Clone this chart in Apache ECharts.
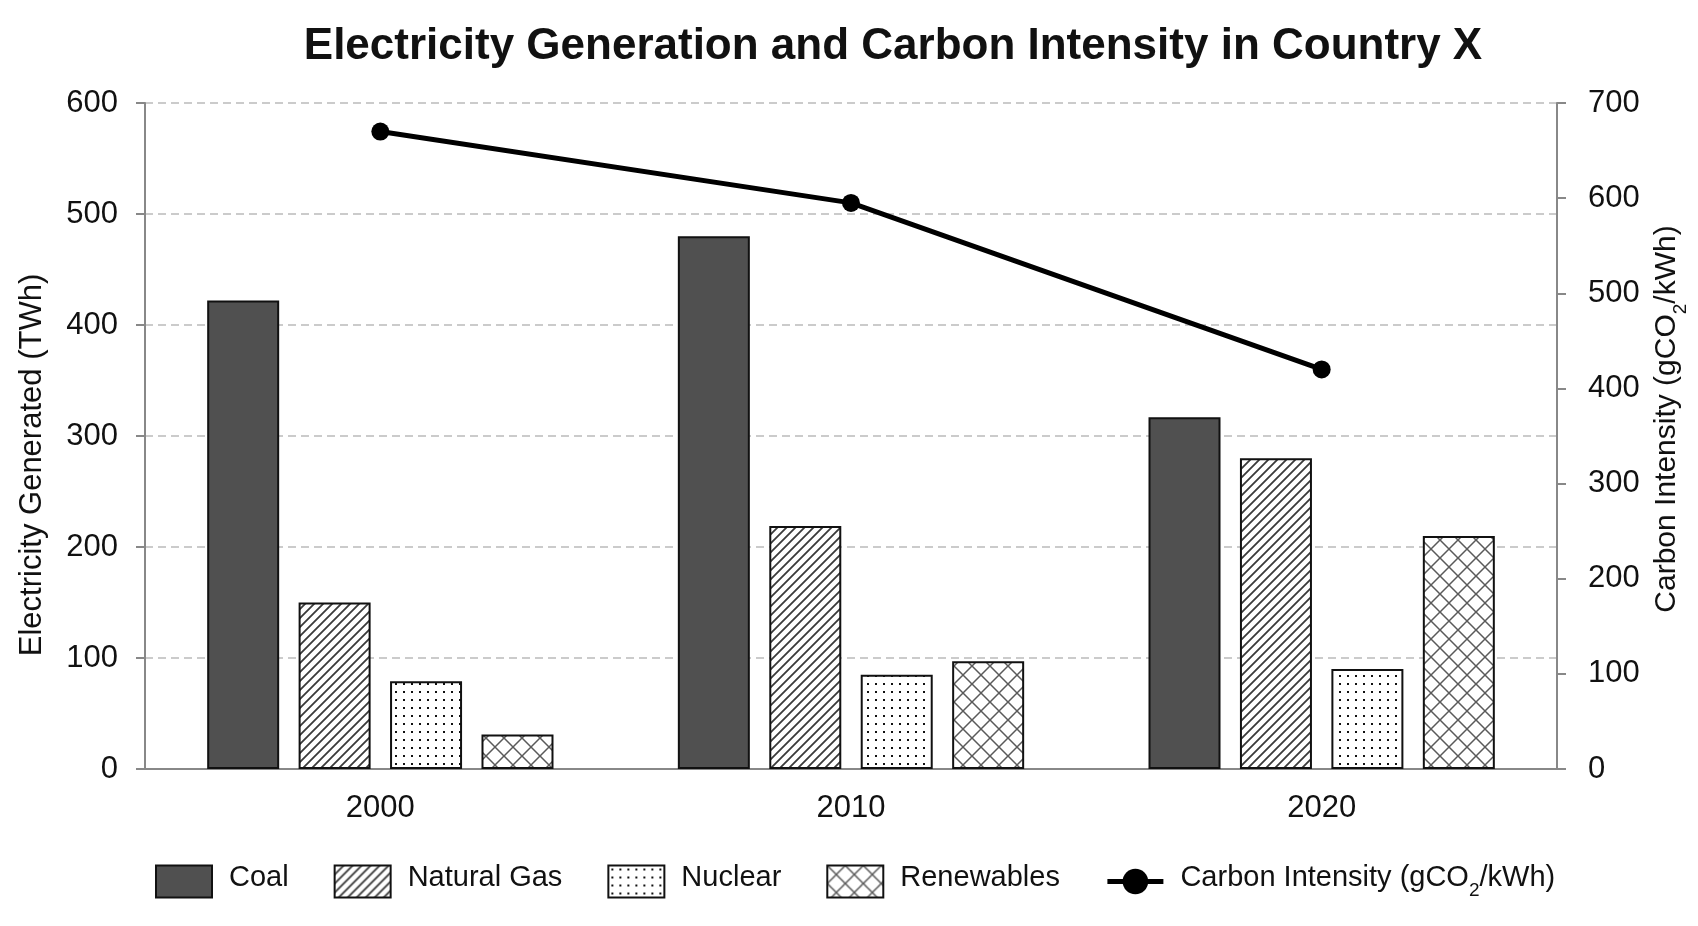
<!DOCTYPE html>
<html>
<head>
<meta charset="utf-8">
<title>Electricity Generation and Carbon Intensity in Country X</title>
<script src="https://cdn.jsdelivr.net/npm/echarts@6/dist/echarts.min.js"></script>
<style>
  html, body { margin: 0; padding: 0; background: #fff; }
  #chart { width: 1698px; height: 926px; }
</style>
</head>
<body>
<div id="chart"></div>
<script>
var years = ['2000', '2010', '2020'];
var coal = [422, 480, 317];
var naturalGas = [150, 219, 280];
var nuclear = [79, 85, 90];
var renewables = [31, 97, 210];
var carbonIntensity = [670, 595, 420];
var leftTicks = { min: 0, max: 600, interval: 100 };
var rightTicks = { min: 0, max: 700, interval: 100 };

var carbonName = 'Carbon Intensity (gCO2/kWh)';
var carbonRich = '{a|Carbon Intensity (gCO}{s|2}{a|/kWh)}';
var font = '"Liberation Sans", Arial, Helvetica, sans-serif';

// little canvas tiles used as bar fills
function tile(size, draw) {
    var c = document.createElement('canvas');
    c.width = size;
    c.height = size;
    var g = c.getContext('2d');
    g.fillStyle = '#ffffff';
    g.fillRect(0, 0, size, size);
    draw(g, size);
    return { image: c, repeat: 'repeat' };
}

var hatchFill = tile(9, function (g, p) {
    g.strokeStyle = '#3a3a3a';
    g.lineWidth = 1.8;
    g.beginPath();
    for (var d = -p; d <= p; d += p) {
        g.moveTo(d - 1, p + 1);
        g.lineTo(d + p + 1, -1);
    }
    g.stroke();
});

var dotFill = tile(8, function (g, p) {
    g.fillStyle = '#111111';
    g.fillRect(3, 3, 2, 2);
});

var crossFill = tile(18, function (g, p) {
    g.strokeStyle = '#5a5a5a';
    g.lineWidth = 1.5;
    g.beginPath();
    for (var d = -p; d <= p; d += p) {
        g.moveTo(d - 1, p + 1);
        g.lineTo(d + p + 1, -1);
        g.moveTo(d - 1, -1);
        g.lineTo(d + p + 1, p + 1);
    }
    g.stroke();
});

var myChart = echarts.init(document.getElementById('chart'));

function barSeries(name, data, fill) {
    return {
        name: name,
        type: 'bar',
        data: data,
        barWidth: 72,
        barGap: '27%',
        itemStyle: {
            color: fill,
            borderColor: '#111111',
            borderWidth: 2
        }
    };
}

var option = {
    backgroundColor: '#ffffff',
    animation: false,
    textStyle: { fontFamily: font },
    title: {
        text: 'Electricity Generation and Carbon Intensity in Country X',
        left: 888,
        textAlign: 'center',
        top: 20,
        textStyle: { fontFamily: font, fontSize: 44, fontWeight: 'bold', color: '#111111' }
    },
    legend: {
        left: 150,
        top: 858,
        itemWidth: 56,
        itemHeight: 32,
        itemGap: 45,
        data: [
            { name: 'Coal', icon: 'rect' },
            { name: 'Natural Gas', icon: 'rect' },
            { name: 'Nuclear', icon: 'rect' },
            { name: 'Renewables', icon: 'rect' },
            { name: carbonName, lineStyle: { width: 5, color: '#000000' } }
        ],
        formatter: function (name) {
            if (name === carbonName) {
                return carbonRich;
            }
            return '{a|' + name + '}';
        },
        textStyle: {
            fontFamily: font,
            fontSize: 29,
            color: '#111111',
            padding: [0, 0, 0, 12],
            rich: {
                a: { fontFamily: font, fontSize: 29, lineHeight: 37, verticalAlign: 'top', color: '#111111' },
                s: { fontFamily: font, fontSize: 19, lineHeight: 19, verticalAlign: 'bottom', color: '#111111' }
            }
        }
    },
    grid: { left: 145, right: 141, top: 103, bottom: 157 },
    xAxis: {
        type: 'category',
        data: years,
        axisLine: { lineStyle: { color: '#888888', width: 2 } },
        axisTick: { show: false },
        axisLabel: { fontSize: 31, color: '#111111', margin: 24 }
    },
    yAxis: [
        {
            type: 'value',
            min: leftTicks.min,
            max: leftTicks.max,
            interval: leftTicks.interval,
            name: 'Electricity Generated (TWh)',
            nameLocation: 'middle',
            nameRotate: 90,
            nameGap: 97,
            nameTextStyle: { fontFamily: font, fontSize: 31, color: '#111111', padding: [0, 58, 0, 0] },
            axisLine: { show: true, lineStyle: { color: '#888888', width: 2 } },
            axisTick: { show: true, length: 9, lineStyle: { color: '#888888', width: 2 } },
            axisLabel: { fontSize: 31, color: '#111111', margin: 27 },
            splitLine: { show: true, lineStyle: { color: '#bbbbbb', width: 1.5, type: [8, 5] } }
        },
        {
            type: 'value',
            min: rightTicks.min,
            max: rightTicks.max,
            interval: rightTicks.interval,
            position: 'right',
            name: carbonRich,
            nameLocation: 'middle',
            nameRotate: 90,
            nameGap: 95,
            nameTextStyle: {
                fontFamily: font,
                fontSize: 30,
                color: '#111111',
                padding: [0, 0, 0, 34],
                rich: {
                    a: { fontFamily: font, fontSize: 30, lineHeight: 38, verticalAlign: 'top', color: '#111111' },
                    s: { fontFamily: font, fontSize: 19, lineHeight: 19, verticalAlign: 'bottom', color: '#111111' }
                }
            },
            axisLine: { show: true, lineStyle: { color: '#888888', width: 2 } },
            axisTick: { show: true, length: 9, lineStyle: { color: '#888888', width: 2 } },
            axisLabel: { fontSize: 31, color: '#111111', margin: 31 },
            splitLine: { show: false }
        }
    ],
    series: [
        barSeries('Coal', coal, '#505050'),
        barSeries('Natural Gas', naturalGas, hatchFill),
        barSeries('Nuclear', nuclear, dotFill),
        barSeries('Renewables', renewables, crossFill),
        {
            name: carbonName,
            type: 'line',
            yAxisIndex: 1,
            data: carbonIntensity,
            z: 5,
            symbol: 'circle',
            symbolSize: 18,
            itemStyle: { color: '#000000' },
            lineStyle: { color: '#000000', width: 5 }
        }
    ]
};

myChart.setOption(option, true);
</script>
</body>
</html>
